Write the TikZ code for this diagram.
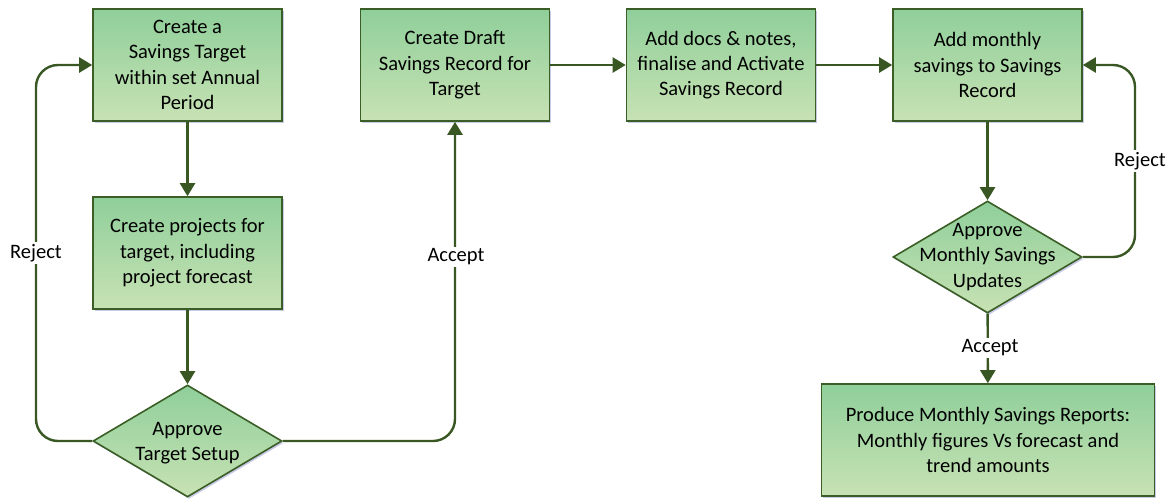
\documentclass[tikz,border=0pt]{standalone}
\usepackage{fontspec}
\setmainfont{Carlito}
\usetikzlibrary{shapes.geometric,arrows.meta,shadows}

\definecolor{boxline}{RGB}{58,94,38}
\definecolor{flowline}{RGB}{56,87,35}
\definecolor{greentop}{RGB}{143,207,154}
\definecolor{greenbot}{RGB}{200,226,180}

\tikzset{
  stepbox/.style={rectangle, draw=boxline, line width=1.6pt, top color=greentop,
    bottom color=greenbot, minimum width=189pt, minimum height=112pt,
    align=center, font=\fontsize{20.5}{25.3}\selectfont,
    drop shadow={shadow xshift=1.5pt, shadow yshift=-2pt, fill=blue!40!gray, opacity=0.3}},
  decision/.style={diamond, draw=boxline, line width=1.6pt, top color=greentop,
    bottom color=greenbot, inner sep=0pt, minimum width=189pt, minimum height=112pt,
    aspect=1.69,
    drop shadow={shadow xshift=1.5pt, shadow yshift=-2pt, fill=blue!40!gray, opacity=0.3}},
  txt/.style={align=center, font=\fontsize{20.5}{25.3}\selectfont},
  lbl/.style={fill=white, inner sep=2pt, font=\fontsize{20.5}{25.3}\selectfont},
  flow/.style={draw=flowline, line width=2.4pt, -{Triangle[length=13pt,width=15pt]}}
}

\begin{document}
\begin{tikzpicture}[x=1pt,y=-1pt]
\useasboundingbox (0,0) rectangle (1170,498);

\node[stepbox] (target) at (187.5,65) {Create a\\Savings Target\\within set Annual\\Period};
\node[stepbox] (projects) at (187.5,253) {Create projects for\\target, including\\project forecast};
\node[decision] (approvet) at (187.5,441) {};
\node[txt] (approvettxt) at (187.5,443) {Approve\\Target Setup};
\node[stepbox] (draft) at (455,65) {Create Draft\\Savings Record for\\Target};
\node[stepbox] (activate) at (721,65) {Add docs \& notes,\\finalise and Activate\\Savings Record};
\node[stepbox] (monthly) at (987.5,65) {Add monthly\\savings to Savings\\Record};
\node[decision] (approvem) at (987.5,257) {};
\node[txt] (approvemtxt) at (987.5,257) {Approve\\Monthly Savings\\Updates};
\node[stepbox, minimum width=333pt] (reports) at (988,440) {Produce Monthly Savings Reports:\\Monthly figures Vs forecast and\\trend amounts};

\coordinate (rejectt) at (36,253);
\coordinate (rejectm) at (1135,161);

\draw[flow] (target) -- (projects);
\draw[flow] (projects) -- (approvet);
\draw[flow, rounded corners=22pt] (approvet.west) -| (rejectt) |- (target.west);
\draw[flow, rounded corners=22pt] (approvet.east) -| (draft.south);
\draw[flow] (draft) -- (activate);
\draw[flow] (activate) -- (monthly);
\draw[flow] (monthly) -- (approvem);
\draw[flow, rounded corners=22pt] (approvem.east) -| (rejectm) |- (monthly.east);
\draw[flow] (approvem) -- (reports);

\node[lbl] (rejecttlbl) at (rejectt) {Reject};
\node[lbl] (accepttlbl) at (456,257) {Accept};
\node[lbl] (rejectmlbl) at (1140,161) {Reject};
\node[lbl] (acceptmlbl) at (990,348) {Accept};
\end{tikzpicture}
\end{document}
